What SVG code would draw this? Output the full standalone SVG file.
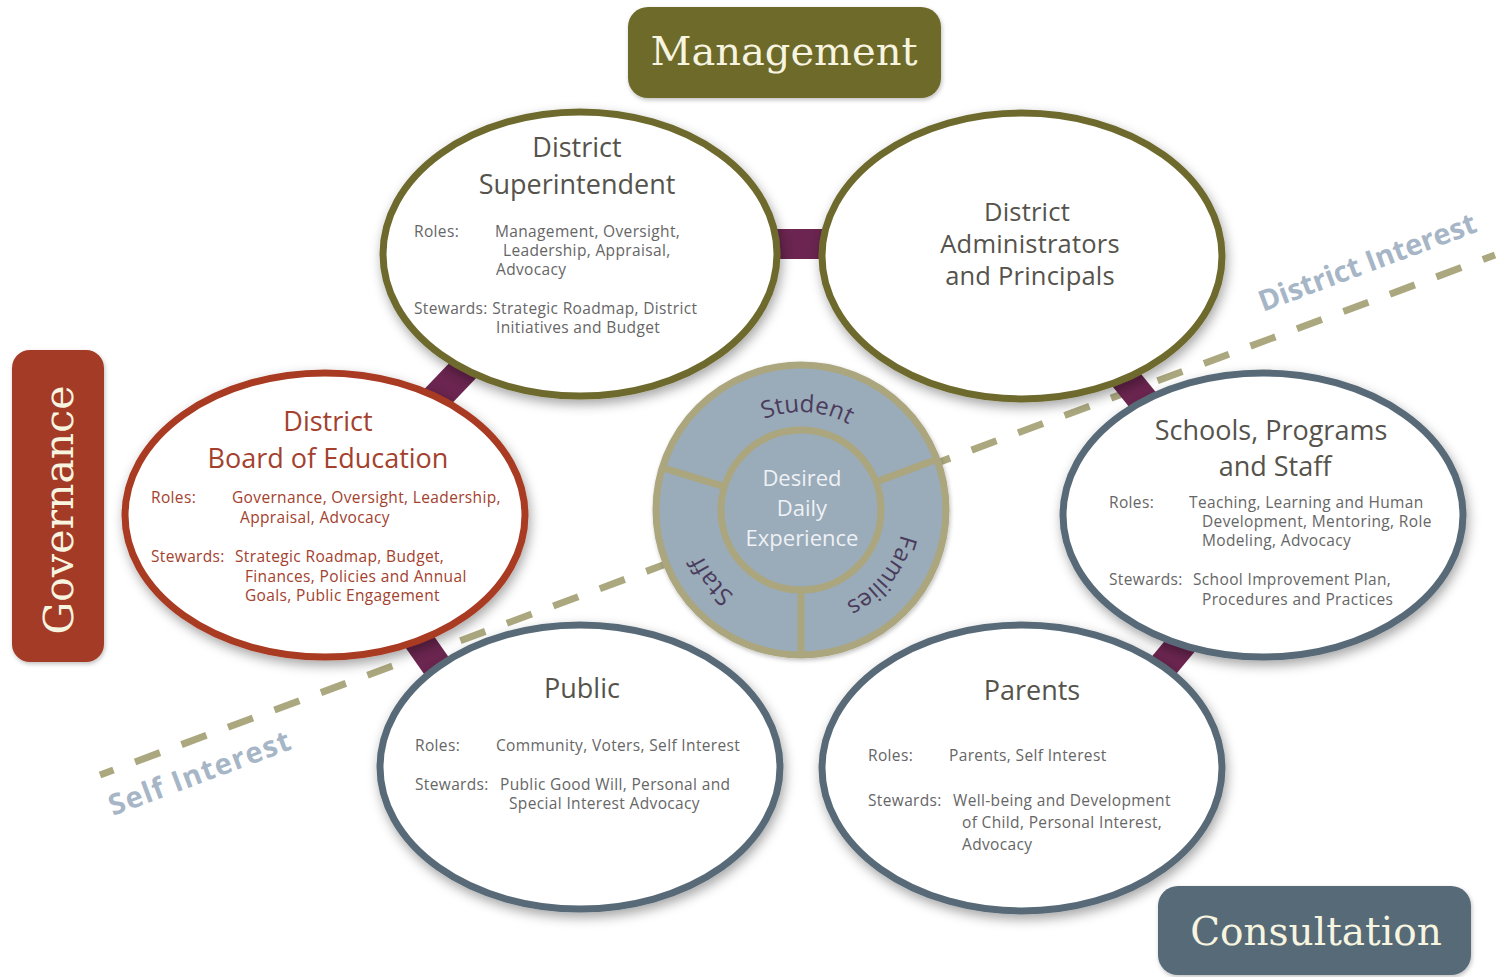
<svg xmlns="http://www.w3.org/2000/svg" width="1501" height="977" viewBox="0 0 1501 977">
<defs>
  <filter id="sh" x="-20%" y="-20%" width="140%" height="150%">
    <feDropShadow dx="2" dy="5" stdDeviation="6" flood-color="#000" flood-opacity="0.35"/>
  </filter>
  <filter id="shs" x="-10%" y="-10%" width="120%" height="130%">
    <feDropShadow dx="1" dy="2" stdDeviation="2" flood-color="#000" flood-opacity="0.25"/>
  </filter>
  <path id="pStudent" d="M899,510 A98,98 0 1 1 703,510 A98,98 0 1 1 899,510"/>
  <path id="pFam" d="M904,510 A103,103 0 1 1 698,510 A103,103 0 1 1 904,510"/>
  <path id="pStaff" d="M909,510 A108,108 0 1 1 693,510 A108,108 0 1 1 909,510"/>
</defs>
<style>
  .ell { fill: #ffffff; stroke-width: 7; filter: url(#sh); }
  .olive { stroke: #6e6b2e; }
  .red { stroke: #a83a22; }
  .slate { stroke: #586b78; }
  .title { font-family: "Open Sans", "Liberation Sans", sans-serif; font-size: 27px; fill: #55534c; text-anchor: middle; }
  .adm { font-size: 25.5px; letter-spacing: 0.2px; }
  .small { font-family: "Open Sans", "Liberation Sans", sans-serif; font-size: 15.5px; letter-spacing: 0.35px; fill: #666666; }
  .redt { fill: #a3412e; }
  .bar { stroke: #6b2550; stroke-width: 30; fill: none; }
  .hdr { font-family: "DejaVu Serif", "Liberation Serif", serif; fill: #f7f4e0; text-anchor: middle; }
  .ring { font-family: "Open Sans", "Liberation Sans", sans-serif; font-size: 24px; fill: #4a3b5c; }
  .ctr { font-family: "Open Sans", "Liberation Sans", sans-serif; font-size: 22px; fill: #eef1f5; text-anchor: middle; }
  .interest { font-family: "Open Sans", "Liberation Sans", sans-serif; font-weight: bold; font-size: 29px; fill: #a6b6c6; }
</style>
<rect x="0" y="0" width="1501" height="977" fill="#ffffff"/>

<g id="divider">
  <line x1="100" y1="775" x2="1495" y2="255" stroke="#aba87f" stroke-width="7" stroke-dasharray="26.6 23" stroke-dashoffset="12.2"/>
  <text class="interest" transform="translate(1263,312) rotate(-20.5)" textLength="230" lengthAdjust="spacing">District Interest</text>
  <text class="interest" transform="translate(113,816) rotate(-20.5)" textLength="192" lengthAdjust="spacing">Self Interest</text>
</g>

<g id="connectors">
  <line class="bar" x1="760" y1="244" x2="840" y2="244"/>
  <line class="bar" x1="425" y1="410" x2="468" y2="365"/>
  <line class="bar" x1="410" y1="628" x2="450" y2="685"/>
  <line class="bar" x1="1112" y1="362" x2="1155" y2="415"/>
  <line class="bar" x1="1150" y1="682" x2="1195" y2="628"/>
</g>

<g id="superintendent">
  <ellipse class="ell olive" cx="580" cy="254" rx="197" ry="142"/>
  <text class="title" x="577" y="157">District</text>
  <text class="title" x="577" y="194">Superintendent</text>
  <text class="small" x="414" y="237">Roles:</text>
  <text class="small" x="495" y="237">Management, Oversight,</text>
  <text class="small" x="503" y="256">Leadership, Appraisal,</text>
  <text class="small" x="496" y="275">Advocacy</text>
  <text class="small" x="414" y="314">Stewards: Strategic Roadmap, District</text>
  <text class="small" x="496" y="333">Initiatives and Budget</text>
</g>

<g id="administrators">
  <ellipse class="ell olive" cx="1022" cy="256" rx="200" ry="143"/>
  <text class="title adm" x="1027" y="221">District</text>
  <text class="title adm" x="1030" y="253">Administrators</text>
  <text class="title adm" x="1030" y="285">and Principals</text>
</g>

<g id="board">
  <ellipse class="ell red" cx="325" cy="515" rx="200" ry="142"/>
  <text class="title redt" x="328" y="431">District</text>
  <text class="title redt" x="328" y="468">Board of Education</text>
  <text class="small redt" x="151" y="503">Roles:</text>
  <text class="small redt" x="232" y="503">Governance, Oversight, Leadership,</text>
  <text class="small redt" x="240" y="523">Appraisal, Advocacy</text>
  <text class="small redt" x="151" y="562">Stewards:</text>
  <text class="small redt" x="235" y="562">Strategic Roadmap, Budget,</text>
  <text class="small redt" x="245" y="582">Finances, Policies and Annual</text>
  <text class="small redt" x="245" y="601">Goals, Public Engagement</text>
</g>

<g id="schools">
  <ellipse class="ell slate" cx="1263" cy="515" rx="200" ry="142"/>
  <text class="title" x="1271" y="440">Schools, Programs</text>
  <text class="title" x="1275" y="476">and Staff</text>
  <text class="small" x="1109" y="508">Roles:</text>
  <text class="small" x="1189" y="508">Teaching, Learning and Human</text>
  <text class="small" x="1202" y="527">Development, Mentoring, Role</text>
  <text class="small" x="1202" y="546">Modeling, Advocacy</text>
  <text class="small" x="1109" y="585">Stewards:</text>
  <text class="small" x="1193" y="585">School Improvement Plan,</text>
  <text class="small" x="1202" y="605">Procedures and Practices</text>
</g>

<g id="public">
  <ellipse class="ell slate" cx="580" cy="767" rx="200" ry="142"/>
  <text class="title" x="582" y="698">Public</text>
  <text class="small" x="415" y="751">Roles:</text>
  <text class="small" x="496" y="751">Community, Voters, Self Interest</text>
  <text class="small" x="415" y="790">Stewards:</text>
  <text class="small" x="500" y="790">Public Good Will, Personal and</text>
  <text class="small" x="509" y="809">Special Interest Advocacy</text>
</g>

<g id="parents">
  <ellipse class="ell slate" cx="1022" cy="768" rx="200" ry="143"/>
  <text class="title" x="1032" y="700">Parents</text>
  <text class="small" x="868" y="761">Roles:</text>
  <text class="small" x="949" y="761">Parents, Self Interest</text>
  <text class="small" x="868" y="806">Stewards:</text>
  <text class="small" x="953" y="806">Well-being and Development</text>
  <text class="small" x="962" y="828">of Child, Personal Interest,</text>
  <text class="small" x="962" y="850">Advocacy</text>
</g>

<g id="center">
  <circle cx="801" cy="510" r="145" fill="#9aabb9" stroke="#aba67e" stroke-width="7" filter="url(#shs)"/>
  <line x1="877" y1="481.6" x2="937" y2="459.2" stroke="#aba67e" stroke-width="7"/>
  <line x1="723.5" y1="486.3" x2="663" y2="467.8" stroke="#aba67e" stroke-width="7"/>
  <line x1="801" y1="591" x2="801" y2="654" stroke="#aba67e" stroke-width="7"/>
  <circle cx="801" cy="510" r="80" fill="#9aabb9" stroke="#aba67e" stroke-width="7"/>
  <text class="ctr" x="802" y="486">Desired</text>
  <text class="ctr" x="802" y="516">Daily</text>
  <text class="ctr" x="802" y="546">Experience</text>
  <text class="ring"><textPath href="#pStudent" startOffset="467" text-anchor="middle">Student</textPath></text>
  <text class="ring"><textPath href="#pFam" startOffset="70" text-anchor="middle">Families</textPath></text>
  <text class="ring"><textPath href="#pStaff" startOffset="267" text-anchor="middle">Staff</textPath></text>
</g>

<g id="management">
  <rect x="628" y="7" width="313" height="91" rx="20" fill="#6d6b2c" filter="url(#shs)"/>
  <text class="hdr" x="784" y="65" font-size="40">Management</text>
</g>

<g id="governance">
  <rect x="12" y="350" width="92" height="312" rx="18" fill="#a43b25" filter="url(#shs)"/>
  <text class="hdr" transform="translate(73,510) rotate(-90)" font-size="41">Governance</text>
</g>

<g id="consultation">
  <rect x="1158" y="886" width="313" height="89" rx="20" fill="#566a77" filter="url(#shs)"/>
  <text class="hdr" x="1316" y="945" font-size="39">Consultation</text>
</g>
</svg>
